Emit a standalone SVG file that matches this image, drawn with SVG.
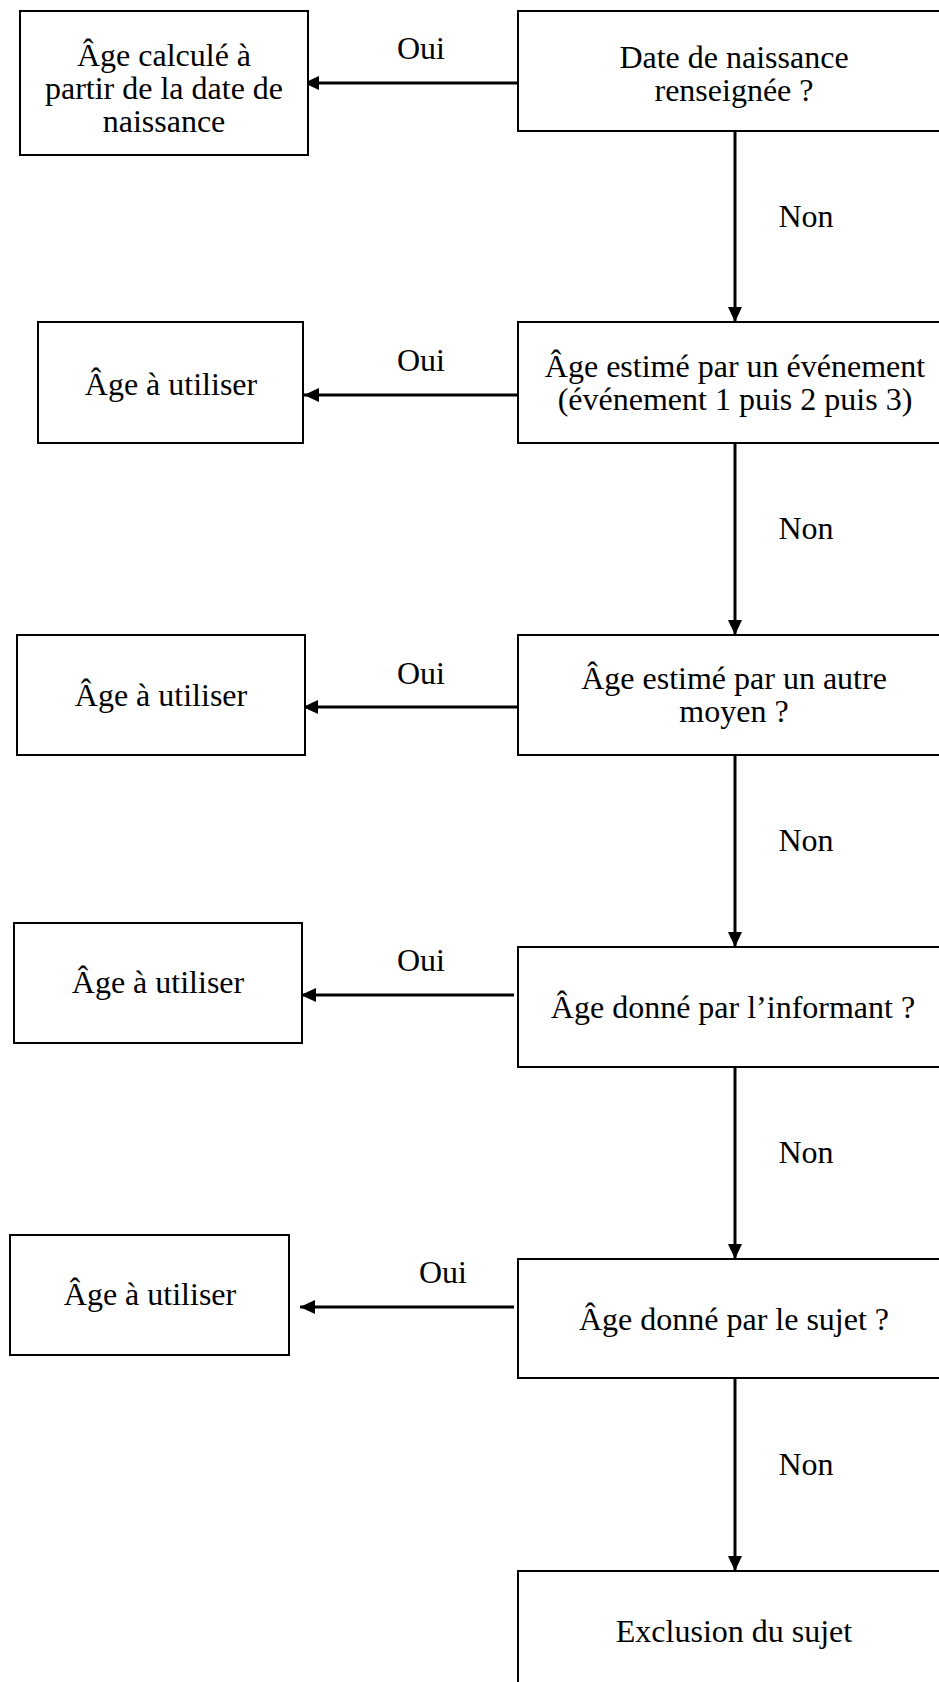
<svg xmlns="http://www.w3.org/2000/svg" width="939" height="1682" viewBox="0 0 939 1682">
<style>
.box{fill:#fff;stroke:#000;stroke-width:2}
.t{font-family:"Liberation Serif","Times New Roman",serif;font-size:32px;fill:#000;text-anchor:middle}
.c{fill:none;stroke:#000;stroke-width:3}
</style>
<defs>
<marker id="ah" markerUnits="userSpaceOnUse" markerWidth="15" markerHeight="14" refX="15" refY="7" orient="auto">
<path d="M0,0 L15,7 L0,14 z" fill="#000"/>
</marker>
</defs>
<rect width="939" height="1682" fill="#fff"/>
<g id="connectors">
<line class="c" x1="518" y1="83" x2="304" y2="83" marker-end="url(#ah)"/>
<line class="c" x1="518" y1="395" x2="304" y2="395" marker-end="url(#ah)"/>
<line class="c" x1="518" y1="707" x2="303" y2="707" marker-end="url(#ah)"/>
<line class="c" x1="514" y1="995" x2="301" y2="995" marker-end="url(#ah)"/>
<line class="c" x1="514" y1="1307" x2="300" y2="1307" marker-end="url(#ah)"/>
<line class="c" x1="735" y1="131" x2="735" y2="322" marker-end="url(#ah)"/>
<line class="c" x1="735" y1="443" x2="735" y2="635" marker-end="url(#ah)"/>
<line class="c" x1="735" y1="755" x2="735" y2="947" marker-end="url(#ah)"/>
<line class="c" x1="735" y1="1067" x2="735" y2="1259" marker-end="url(#ah)"/>
<line class="c" x1="735" y1="1378" x2="735" y2="1571" marker-end="url(#ah)"/>
<text class="t" x="421" y="59">Oui</text>
<text class="t" x="421" y="371">Oui</text>
<text class="t" x="421" y="684">Oui</text>
<text class="t" x="421" y="971">Oui</text>
<text class="t" x="443" y="1283">Oui</text>
<text class="t" x="806" y="227">Non</text>
<text class="t" x="806" y="539">Non</text>
<text class="t" x="806" y="851">Non</text>
<text class="t" x="806" y="1163">Non</text>
<text class="t" x="806" y="1475">Non</text>
</g>
<g id="q1">
<rect class="box" x="518" y="11" width="440" height="120"/>
<text class="t" x="734" y="68">Date de naissance</text>
<text class="t" x="734" y="101">renseignée ?</text>
</g>
<g id="r1">
<rect class="box" x="20" y="11" width="288" height="144"/>
<text class="t" x="164" y="66">Âge calculé à</text>
<text class="t" x="164" y="99">partir de la date de</text>
<text class="t" x="164" y="132">naissance</text>
</g>
<g id="q2">
<rect class="box" x="518" y="322" width="440" height="121"/>
<text class="t" x="735" y="377">Âge estimé par un événement</text>
<text class="t" x="735" y="410">(événement 1 puis 2 puis 3)</text>
</g>
<g id="r2">
<rect class="box" x="38" y="322" width="265" height="121"/>
<text class="t" x="171" y="395">Âge à utiliser</text>
</g>
<g id="q3">
<rect class="box" x="518" y="635" width="440" height="120"/>
<text class="t" x="734" y="689">Âge estimé par un autre</text>
<text class="t" x="734" y="722">moyen ?</text>
</g>
<g id="r3">
<rect class="box" x="17" y="635" width="288" height="120"/>
<text class="t" x="161" y="706">Âge à utiliser</text>
</g>
<g id="q4">
<rect class="box" x="518" y="947" width="440" height="120"/>
<text class="t" x="733" y="1018">Âge donné par l’informant ?</text>
</g>
<g id="r4">
<rect class="box" x="14" y="923" width="288" height="120"/>
<text class="t" x="158" y="993">Âge à utiliser</text>
</g>
<g id="q5">
<rect class="box" x="518" y="1259" width="440" height="119"/>
<text class="t" x="734" y="1330">Âge donné par le sujet ?</text>
</g>
<g id="r5">
<rect class="box" x="10" y="1235" width="279" height="120"/>
<text class="t" x="150" y="1305">Âge à utiliser</text>
</g>
<g id="end">
<rect class="box" x="518" y="1571" width="440" height="130"/>
<text class="t" x="734" y="1642">Exclusion du sujet</text>
</g>
</svg>
